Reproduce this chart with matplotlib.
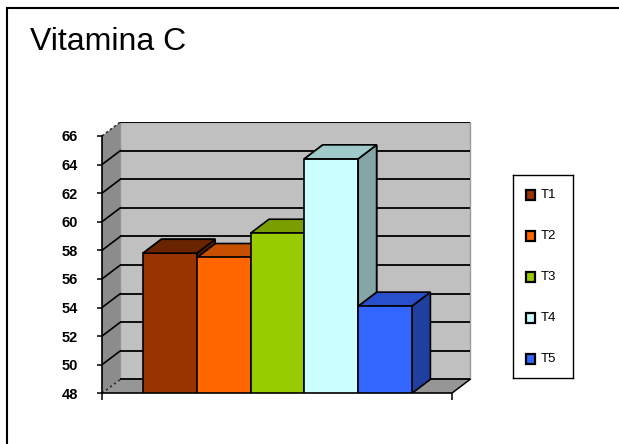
import matplotlib
matplotlib.use("Agg")
import matplotlib.pyplot as plt
from matplotlib.patches import Polygon, Rectangle

# ---- data ----
title = "Vitamina C"
series = ["T1", "T2", "T3", "T4", "T5"]
values = [57.8, 57.5, 59.2, 64.4, 54.1]
front_colors = ["#993300", "#FF6600", "#99CC00", "#CCFFFF", "#3366FF"]
top_colors = ["#6B2400", "#C75000", "#7A9E00", "#9FCACA", "#2850CC"]
side_colors = ["#5A1E00", "#A84400", "#648200", "#85A6A6", "#2040A0"]
y_ticks = [48, 50, 52, 54, 56, 58, 60, 62, 64, 66]

# ---- layout (figure pixels) ----
W, H = 619, 444
fig = plt.figure(figsize=(W / 100, H / 100), dpi=100)


def px_box(x0, y0, x1, y1):
    return [x0 / W, 1 - y1 / H, (x1 - x0) / W, (y1 - y0) / H]


ymin, ymax = y_ticks[0], y_ticks[-1]
floor_w = 6.5          # width of the front plane in bar units
bar_start = 0.762      # first bar's left edge
dx, dy = 0.342, 0.976  # depth offset (x in bar units, y in value units)

ax = fig.add_axes(px_box(102, 122, 472, 393.3))
ax.set_xlim(0, 370 / 53.8)
ax.set_ylim(ymin, ymax + dy)
ax.patch.set_visible(False)

wall_back = "#C0C0C0"
wall_side = "#8C8C8C"
floor_col = "#969696"

# back wall
ax.add_patch(Rectangle((dx, ymin + dy), floor_w, ymax - ymin, facecolor=wall_back,
                       edgecolor="#9A9A9A", lw=1.0, zorder=1))
# left wall
ax.add_patch(Polygon([(0, ymin), (0, ymax), (dx, ymax + dy), (dx, ymin + dy)],
                     closed=True, facecolor=wall_side, edgecolor="none", zorder=1))
# floor
ax.add_patch(Polygon([(0, ymin), (floor_w, ymin), (floor_w + dx, ymin + dy), (dx, ymin + dy)],
                     closed=True, facecolor=floor_col, edgecolor="none", zorder=1))
ax.plot([floor_w, floor_w + dx], [ymin, ymin + dy], color="black", lw=1.1, zorder=2)

# gridlines on back wall and left wall
for v in y_ticks:
    ax.plot([dx, floor_w + dx], [v + dy, v + dy], color="black", lw=1.3, zorder=2,
            solid_capstyle="butt")
    if v in (ymin, ymax):
        ax.plot([0, dx], [v, v + dy], color="#333333", lw=1.2, ls=(0, (1.5, 1.5)), zorder=2)
    else:
        ax.plot([0, dx], [v, v + dy], color="black", lw=1.2, zorder=2)

# bars
def bar_faces(i, h):
    x0 = bar_start + i
    x1 = x0 + 1
    front = [(x0, ymin), (x1, ymin), (x1, h), (x0, h)]
    top = [(x0, h), (x1, h), (x1 + dx, h + dy), (x0 + dx, h + dy)]
    side = [(x1, ymin), (x1 + dx, ymin + dy), (x1 + dx, h + dy), (x1, h)]
    return front, top, side


z = 3
for i, h in enumerate(values):
    front, top, side = bar_faces(i, h)
    for poly, col in ((side, side_colors[i]), (top, top_colors[i]), (front, front_colors[i])):
        ax.add_patch(Polygon(poly, closed=True, facecolor=col, edgecolor="black",
                             lw=1.2, joinstyle="miter", zorder=z))
        z += 1

# a taller bar's top and upper side stay visible over a shorter right neighbour
for i in range(len(values) - 1):
    h, hn = values[i], values[i + 1]
    if h > hn:
        x1 = bar_start + i + 1
        upper_side = [(x1, hn), (x1 + dx, hn + dy), (x1 + dx, h + dy), (x1, h)]
        _, top, _ = bar_faces(i, h)
        ax.add_patch(Polygon(upper_side, closed=True, facecolor=side_colors[i],
                             edgecolor="black", lw=1.2, joinstyle="miter", zorder=z))
        z += 1
        ax.add_patch(Polygon(top, closed=True, facecolor=top_colors[i],
                             edgecolor="black", lw=1.2, joinstyle="miter", zorder=z))
        z += 1

# axes lines and ticks
for s in ("top", "right"):
    ax.spines[s].set_visible(False)
ax.spines["left"].set_bounds(ymin, ymax)
ax.spines["bottom"].set_bounds(0, floor_w)
ax.spines["left"].set_color("black")
ax.spines["bottom"].set_color("black")
ax.spines["left"].set_linewidth(1.2)
ax.spines["bottom"].set_linewidth(1.2)
ax.spines["left"].set_zorder(50)
ax.spines["bottom"].set_zorder(2.5)

ax.set_yticks(y_ticks)
ax.set_yticklabels([str(t) for t in y_ticks], fontsize=10.5, fontweight="bold",
                   family="Liberation Sans")
ax.tick_params(axis="y", length=3.5, width=1.1, direction="out", pad=14, color="black")
ax.set_xticks([0, floor_w])
ax.set_xticklabels(["", ""])
ax.tick_params(axis="x", length=5, width=1.1, direction="out", color="black")

# legend
lax = fig.add_axes(px_box(513, 175, 573, 378))
lax.set_xlim(0, 60)
lax.set_ylim(203, 0)
lax.set_xticks([])
lax.set_yticks([])
for s in lax.spines.values():
    s.set_color("black")
    s.set_linewidth(1.0)
for i, name in enumerate(series):
    yc = 20 + 41 * i
    lax.add_patch(Rectangle((12.5, yc - 5), 9.5, 10, facecolor=front_colors[i],
                            edgecolor="black", lw=1.6))
    lax.text(28, yc, name, fontsize=9.5, family="Liberation Sans", va="center", ha="left")

# title and outer frame
fig.text(30 / W, 1 - 50 / H, title, fontsize=23, family="Liberation Sans",
         va="baseline", ha="left")
fig.add_artist(Rectangle((7 / W, -0.1), 1.2, 1.1 - 8 / H, transform=fig.transFigure,
                         facecolor="none", edgecolor="black", lw=1.5, clip_on=False))

fig.savefig("out.png", dpi=100)
